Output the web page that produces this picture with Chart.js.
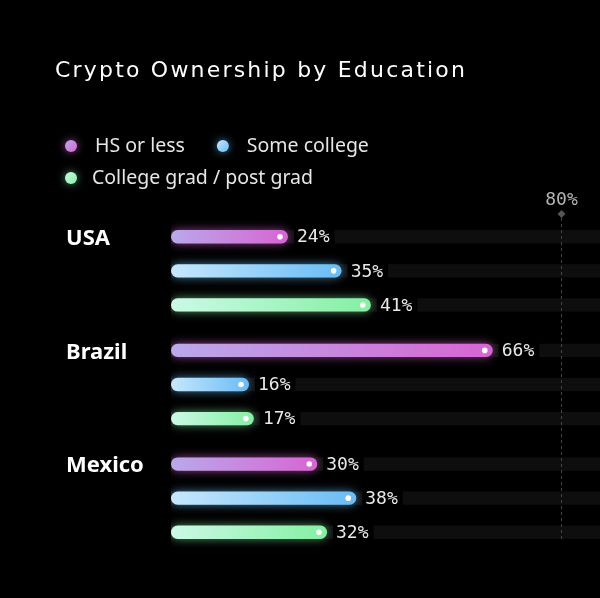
<!DOCTYPE html>
<html>
<head>
<meta charset="utf-8">
<script src="https://cdn.jsdelivr.net/npm/chart.js@4.4.1/dist/chart.umd.min.js"></script>
<style>
  html, body { margin: 0; padding: 0; background: #000; }
  #wrap { width: 600px; height: 598px; }
</style>
</head>
<body>
<div id="wrap"><canvas id="eduChart" width="600" height="598"></canvas></div>
<script>
// ================== DATA ==================
const countries = ["USA", "Brazil", "Mexico"];
const seriesNames = ["HS or less", "Some college", "College grad / post grad"];
const hsOrLess = [24, 66, 30];
const someCollege = [35, 16, 38];
const collegeGrad = [41, 17, 32];
const targetValue = 80;
const axisMax = 88;

// ================== STYLE ==================
const palettes = [
  { from: "#b9a9ea", to: "#d765d3", glow: "rgba(215,101,211,0.65)" },
  { from: "#c6e7fc", to: "#69bcf5", glow: "rgba(105,188,245,0.65)" },
  { from: "#cbf9e6", to: "#84f0a2", glow: "rgba(132,240,162,0.6)" },
];
const trackColor = "#0e0e0e";
const monoFont = '"DejaVu Sans Mono", monospace';

// ================== HELPERS ==================
function barFill(i) {
  return (c) => {
    const x = c.chart.scales.x;
    if (!x || c.raw == null) return palettes[i].to;
    const x0 = x.getPixelForValue(0);
    const x1 = x.getPixelForValue(c.raw);
    if (!Number.isFinite(x0) || !Number.isFinite(x1) || x1 <= x0) return palettes[i].to;
    const g = c.chart.ctx.createLinearGradient(x0, 0, x1, 0);
    g.addColorStop(0, palettes[i].from);
    g.addColorStop(1, palettes[i].to);
    return g;
  };
}

function makeDataset(label, data, i) {
  return {
    label,
    data,
    backgroundColor: barFill(i),
    borderRadius: 7,
    borderSkipped: false,
    barPercentage: 0.39,
    categoryPercentage: 0.9,
  };
}

// ================== DECORATION PLUGIN ==================
const decoPlugin = {
  id: "deco",
  beforeDatasetsDraw(chart) {
    const { ctx, chartArea, scales } = chart;
    const x0 = scales.x.getPixelForValue(0);
    ctx.save();
    ctx.fillStyle = trackColor;
    chart.data.datasets.forEach((ds, i) => {
      chart.getDatasetMeta(i).data.forEach((el) => {
        const h = el.height;
        ctx.fillRect(x0, el.y - h / 2, chartArea.right - x0, h);
      });
    });
    // target line
    const tx = Math.round(scales.x.getPixelForValue(targetValue)) + 0.5;
    ctx.strokeStyle = "#444";
    ctx.lineWidth = 1;
    ctx.setLineDash([3, 3]);
    ctx.beginPath();
    ctx.moveTo(tx, chartArea.top + 4);
    ctx.lineTo(tx, chartArea.bottom - 16);
    ctx.stroke();
    ctx.restore();
  },
  beforeDatasetDraw(chart, args) {
    const ctx = chart.ctx;
    ctx.save();
    ctx.shadowColor = palettes[args.index].glow;
    ctx.shadowBlur = 10;
  },
  afterDatasetDraw(chart) {
    chart.ctx.restore();
  },
  afterDatasetsDraw(chart) {
    const ctx = chart.ctx;
    ctx.save();
    ctx.font = "18px " + monoFont;
    ctx.textBaseline = "middle";
    chart.data.datasets.forEach((ds, i) => {
      chart.getDatasetMeta(i).data.forEach((el, j) => {
        const text = ds.data[j] + "%";
        const tw = ctx.measureText(text).width;
        const lx = el.x + 9;
        // black plate behind the label so the track stops there
        ctx.fillStyle = "#000";
        ctx.fillRect(el.x + 6, el.y - el.height / 2 - 1, tw + 8, el.height + 2);
        ctx.fillStyle = "#e8e8e8";
        ctx.textAlign = "left";
        ctx.fillText(text, lx, el.y + 1);
        // end dot
        ctx.fillStyle = "#fff";
        ctx.beginPath();
        ctx.arc(el.x - 8, el.y, 2.8, 0, Math.PI * 2);
        ctx.fill();
      });
    });
    ctx.restore();
  },
  afterDraw(chart) {
    const { ctx, chartArea, scales } = chart;
    ctx.save();

    // title
    ctx.fillStyle = "#fff";
    ctx.font = '500 22px "DejaVu Sans"';
    ctx.textAlign = "left";
    ctx.textBaseline = "alphabetic";
    ctx.letterSpacing = "2.2px";
    ctx.fillText("Crypto Ownership by Education", 55, 77);
    ctx.letterSpacing = "0px";

    // legend
    ctx.font = '19.5px "Noto Sans"';
    ctx.textBaseline = "middle";
    const rows = [[0, 1], [2]];
    rows.forEach((row, r) => {
      let x = 71;
      const y = 146 + r * 32;
      row.forEach((i) => {
        ctx.save();
        ctx.shadowColor = palettes[i].glow;
        ctx.shadowBlur = 8;
        const g = ctx.createLinearGradient(x - 6, y - 6, x + 6, y + 6);
        g.addColorStop(0, palettes[i].from);
        g.addColorStop(1, palettes[i].to);
        ctx.fillStyle = g;
        ctx.beginPath();
        ctx.arc(x, y, 6, 0, Math.PI * 2);
        ctx.fill();
        ctx.restore();
        ctx.fillStyle = "#e6e6e6";
        ctx.textAlign = "left";
        const off = r === 0 ? 24 : 21;
        ctx.fillText(seriesNames[i], x + off, y);
        x += off + ctx.measureText(seriesNames[i]).width + 38;
      });
    });

    // target marker
    const tx = Math.round(scales.x.getPixelForValue(targetValue)) + 0.5;
    ctx.fillStyle = "#555";
    ctx.beginPath();
    ctx.moveTo(tx, chartArea.top - 4);
    ctx.lineTo(tx + 4, chartArea.top);
    ctx.lineTo(tx, chartArea.top + 4);
    ctx.lineTo(tx - 4, chartArea.top);
    ctx.closePath();
    ctx.fill();
    ctx.fillStyle = "#b5b5b5";
    ctx.font = "18px " + monoFont;
    ctx.textAlign = "center";
    ctx.textBaseline = "middle";
    ctx.fillText(targetValue + "%", tx, chartArea.top - 14);

    ctx.restore();
  },
};

// ================== CHART ==================
const ctx = document.getElementById("eduChart").getContext("2d");
const eduChart = new Chart(ctx, {
  type: "bar",
  data: {
    labels: countries,
    datasets: [
      makeDataset(seriesNames[0], hsOrLess, 0),
      makeDataset(seriesNames[1], someCollege, 1),
      makeDataset(seriesNames[2], collegeGrad, 2),
    ],
  },
  options: {
    indexAxis: "y",
    responsive: false,
    animation: false,
    devicePixelRatio: 1,
    layout: { padding: { top: 214, left: 66, right: 0, bottom: 43 } },
    scales: {
      x: { min: 0, max: axisMax, display: false },
      y: {
        grid: { display: false },
        border: { display: false },
        ticks: {
          color: "#fff",
          font: { family: "Noto Sans", size: 22, weight: "bold" },
          crossAlign: "far",
          labelOffset: -32,
          padding: 0,
        },
        afterFit(scale) {
          scale.width = 105;
        },
      },
    },
    plugins: {
      legend: { display: false },
      tooltip: { enabled: false },
      title: { display: false },
    },
  },
  plugins: [decoPlugin],
});
</script>
</body>
</html>
